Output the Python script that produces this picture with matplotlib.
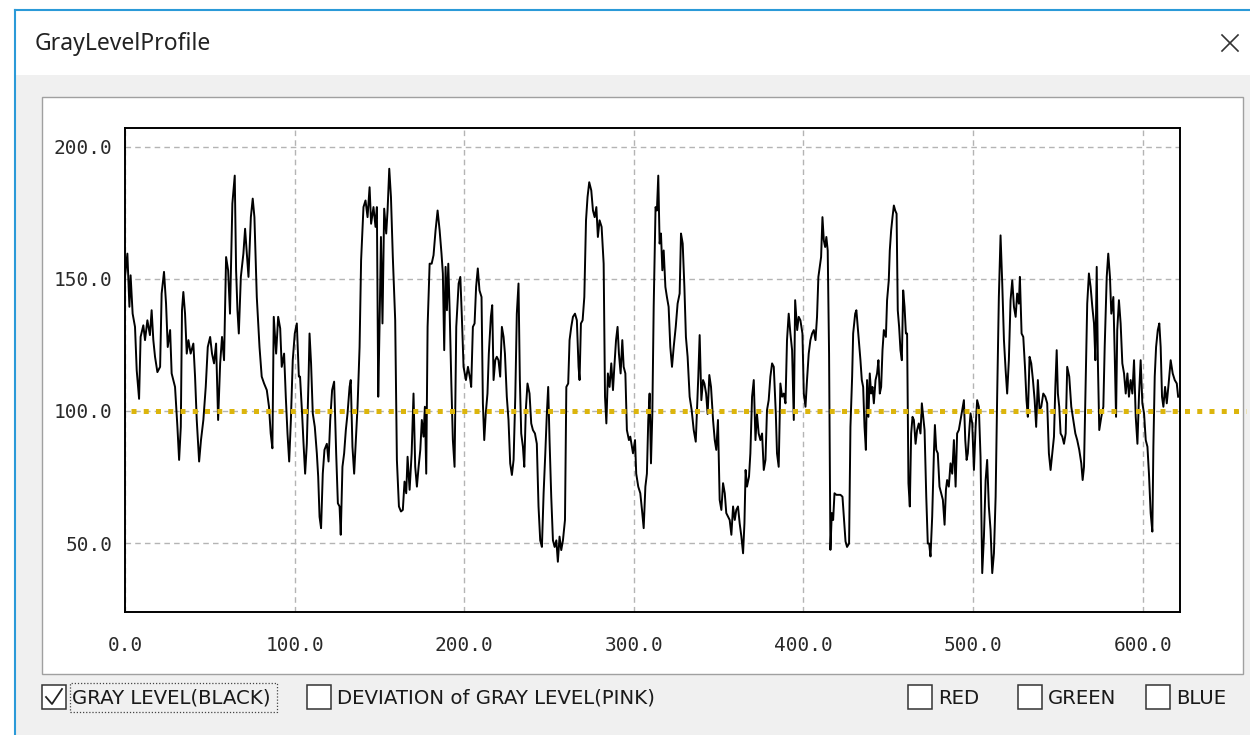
import matplotlib
matplotlib.use('Agg')
import matplotlib.pyplot as plt
from matplotlib.patches import Rectangle
from matplotlib.lines import Line2D

# ---- data ----
profile_x = [
    0.0, 1.4, 2.6, 3.3, 4.5, 5.9, 6.9, 8.3, 9.2, 10.8, 11.8, 13.2, 14.7, 15.7, 16.7, 17.7, 19.1, 20.7, 21.6, 23.0,
    24.2, 25.2, 26.6, 27.5, 29.5, 30.9, 31.9, 32.9, 33.6, 34.4, 35.4, 36.4, 37.4, 38.7, 40.3, 41.3, 42.3, 43.7, 44.8, 46.2,
    47.6, 48.8, 50.2, 51.3, 52.5, 53.7, 54.9, 56.1, 57.2, 58.4, 59.6, 60.8, 61.9, 63.3, 64.7, 65.5, 66.3, 67.1, 68.3, 69.8,
    70.8, 71.8, 72.8, 74.2, 75.3, 76.3, 77.7, 79.3, 80.6, 82.0, 83.6, 84.9, 85.9, 86.9, 87.7, 89.1, 90.3, 91.5, 92.4, 93.8,
    94.8, 95.8, 96.8, 97.8, 98.9, 100.1, 101.3, 102.5,
    103.2, 104.4, 105.2, 106.2, 107.2, 108.2, 108.8, 109.7, 110.7, 111.9, 113.1, 113.9, 114.7, 115.6, 116.6, 117.6, 119.0,
    120.0, 121.0, 122.1, 123.3, 124.5, 125.5, 126.5, 127.2, 128.2, 129.2, 130.2, 131.2, 132.4, 133.1, 134.1, 135.1, 136.1,
    137.1, 138.3, 139.2, 140.6, 141.8, 143.0, 144.2, 145.1, 146.5, 147.7, 148.5, 149.3, 150.1, 150.9, 151.8, 152.8, 154.0,
    154.8, 155.8, 156.8, 157.9, 159.3, 160.3, 161.5, 162.7, 163.8, 164.8, 165.8, 166.6, 167.8, 169.0, 170.1, 171.1, 172.1,
    173.1, 174.1, 175.0, 176.0, 176.8, 177.6, 178.4, 179.6, 180.8, 181.9, 183.1, 184.3, 185.5, 186.6, 187.4, 188.2, 189.0,
    189.8, 190.6, 191.4, 192.4, 193.3, 194.3, 195.3, 196.7, 197.7, 198.6, 199.6, 201.0, 202.2, 203.6,
    204.1, 205.1, 206.1, 207.0, 208.0, 209.0, 210.2, 211.0, 211.8, 212.7, 213.7, 214.5, 215.7, 216.5, 217.3, 218.3, 219.2,
    220.2, 221.2, 222.2, 223.2, 224.0, 225.1, 226.1, 227.1, 228.1, 229.1, 230.1, 231.0, 232.0, 232.8, 233.6, 234.6, 235.4,
    236.3, 237.3, 238.5, 239.5, 240.5, 241.7, 242.8, 243.8, 244.8, 245.8, 246.8, 247.8, 248.7, 249.5, 250.3, 251.3, 252.3,
    253.3, 254.3, 255.2, 256.2, 257.2, 258.2, 259.4, 260.2, 261.3, 262.1, 263.1, 264.1, 265.3, 266.4, 267.4, 268.0, 268.8,
    269.8, 270.8, 271.8, 272.7, 273.7, 274.9, 275.9, 276.9, 277.9, 278.8, 279.8, 281.0, 282.2, 283.0, 283.8, 284.7, 285.7,
    286.7, 287.7, 288.5, 289.5, 290.4, 291.2, 292.2, 293.2, 294.0, 295.0, 295.9, 297.1,
    297.9, 299.5, 300.7, 301.4, 302.6, 303.8, 304.8, 305.8, 306.8, 307.7, 308.5, 309.3, 310.1, 310.9, 311.7, 312.8, 313.6,
    314.4, 315.2, 316.0, 316.8, 317.6, 318.6, 319.5, 320.5, 321.5, 322.5, 323.5, 324.7, 325.8, 327.0, 327.8, 328.8, 329.8,
    330.7, 331.7, 332.9, 334.1, 335.3, 336.5, 337.2, 338.0, 338.8, 339.8, 340.8, 341.6, 342.6, 343.5, 344.5, 345.5, 346.7,
    347.7, 348.6, 349.6, 350.6, 351.6, 352.6, 353.6, 354.5, 355.5, 356.5, 357.5, 358.5, 359.5, 360.4, 361.4, 362.4, 363.4,
    364.4, 365.2, 365.9, 366.7, 367.9, 368.7, 369.7, 370.7, 371.7, 372.6, 373.6, 374.6, 375.6, 376.6, 377.6, 378.5, 379.5,
    380.5, 381.5, 382.5, 383.7, 384.4, 385.4, 386.4, 387.4, 388.4, 389.4, 390.3, 391.3, 392.3, 393.3, 394.3, 395.1, 396.3,
    397.2,
    398.2, 399.4, 400.2, 401.2, 402.1, 403.1, 404.1, 405.1, 406.1, 407.1, 408.0, 408.8, 409.6, 410.4, 411.2, 412.0, 412.8,
    413.5, 414.3, 415.1, 415.9, 416.7, 417.5, 418.3, 419.4, 420.8, 421.8, 423.0, 423.8, 424.8, 425.7, 426.9, 427.7, 428.7,
    429.3, 430.5, 431.2, 432.0, 432.8, 433.6, 434.4, 435.2, 436.0, 436.8, 437.5, 438.3, 439.1, 439.9, 440.7, 441.5, 442.5,
    443.4, 444.2, 445.0, 445.8, 446.6, 447.4, 448.6, 449.3, 450.3, 450.9, 451.7, 452.5, 453.3, 454.1, 454.9, 455.6, 456.4,
    457.2, 458.0, 458.8, 459.6, 460.4, 461.1, 461.9, 462.7, 463.5, 464.3, 465.1, 466.1, 467.0, 468.0, 469.0, 469.8, 470.6,
    471.4, 472.4, 473.3, 474.1, 474.9, 475.9, 476.9, 477.5, 478.3, 479.2, 480.2, 481.2, 482.2, 483.2, 484.0, 484.7, 485.7,
    486.7, 487.7, 488.7, 489.7, 490.6, 491.6, 492.6, 493.6, 494.6, 495.4, 496.2, 496.9, 497.9,
    498.5, 499.5, 500.5, 501.5, 502.4, 503.4, 504.4, 505.4, 506.4, 507.4, 508.3, 509.3, 510.3, 511.3, 512.3, 513.3, 514.2,
    515.2, 516.2, 517.2, 518.2, 519.2, 520.1, 521.1, 522.1, 523.1, 524.1, 525.1, 526.0, 527.0, 527.6, 528.6, 529.6, 530.6,
    531.5, 532.3, 533.3, 534.3, 535.3, 536.3, 537.2, 538.2, 539.2, 540.2, 541.4, 542.6, 543.7, 544.7, 545.7, 546.7, 547.7,
    548.5, 549.3, 550.0, 550.8, 551.6, 552.6, 553.6, 554.6, 555.5, 556.7, 557.9, 559.1, 560.3, 561.4, 562.6, 563.8, 564.6,
    565.4, 566.6, 567.3, 568.3, 569.3, 570.3, 571.3, 572.1, 572.9, 573.6, 574.4, 575.6, 576.8, 577.6, 578.8, 579.7, 580.7,
    581.5, 582.7, 583.5, 584.3, 585.0, 586.0, 587.0, 588.0, 589.0, 590.0, 591.0, 591.9, 592.9, 593.9, 594.9, 595.9, 596.9,
    597.8, 598.8, 599.8, 600.8, 601.8, 602.8, 603.7, 604.7, 605.7, 606.3, 607.1, 607.9, 608.9, 609.8, 610.6, 611.4, 612.2,
    613.2, 614.2, 615.3, 616.5, 617.7, 618.9, 620.1, 620.9,
]
profile_y = [
    150.7, 159.5, 139.4, 151.3, 136.8, 131.8, 115.4, 104.6, 128.0, 132.4, 126.8, 134.3, 128.7, 138.1, 126.8, 120.5, 114.7,
    116.7, 144.4, 152.6, 140.6, 124.2, 130.6, 114.2, 109.1, 94.0, 81.5, 94.0, 138.1, 145.0, 136.8, 121.7, 126.8, 121.7,
    125.5, 113.0, 96.6, 80.9, 89.0, 96.6, 109.1, 124.2, 128.0, 121.7, 118.0, 125.5, 96.6, 118.0, 128.0, 119.2, 158.2,
    153.2, 136.8, 178.4, 189.0, 153.2, 138.1, 129.3, 150.7, 159.5, 168.9, 159.5, 150.7, 173.3, 180.3, 173.3, 143.1, 124.2,
    113.0, 110.4, 107.9, 101.6, 91.5, 85.9, 135.6, 121.7, 135.6, 131.2, 116.7, 121.7, 105.4, 91.5, 80.9, 96.6, 119.2,
    129.3, 133.1, 113.0,
    113.0, 99.1, 88.4, 76.3, 87.6, 111.7, 129.3, 118.0, 99.1, 94.0, 84.0, 75.2, 60.0, 55.7, 76.3, 85.3, 87.6, 80.9, 96.6,
    107.9, 111.1, 84.0, 65.1, 63.9, 53.2, 78.9, 84.0, 92.8, 99.1, 109.1, 111.7, 86.5, 76.3, 89.0, 101.6, 124.2, 157.0,
    177.1, 179.6, 173.3, 184.6, 170.8, 177.1, 169.6, 177.1, 105.4, 133.1, 165.8, 133.1, 176.5, 167.1, 175.8, 191.6, 180.9,
    158.2, 134.3, 81.5, 63.9, 62.0, 62.6, 73.3, 68.9, 82.7, 70.2, 84.0, 106.6, 78.9, 71.4, 78.9, 85.3, 96.6, 90.3, 101.6,
    76.3, 131.8, 155.7, 155.7, 158.9, 168.3, 175.8, 168.3, 159.5, 152.0, 123.0, 154.5, 138.1, 155.7, 138.1, 110.4, 89.0,
    78.9, 131.8, 148.2, 150.7, 135.6, 116.7, 111.7, 116.7, 111.7,
    109.1, 131.8, 133.1, 146.9, 153.9, 145.6, 143.1, 102.9, 89.0, 99.1, 106.6, 121.7, 135.6, 140.0, 111.7, 119.2, 120.5,
    119.2, 113.0, 131.8, 128.0, 121.7, 105.4, 96.6, 80.2, 75.8, 81.5, 105.4, 136.8, 148.2, 111.7, 91.5, 86.5, 78.9, 100.3,
    110.4, 106.6, 95.3, 92.8, 91.5, 87.6, 63.9, 51.1, 48.6, 68.9, 84.0, 98.9, 109.1, 89.0, 67.6, 51.1, 48.6, 51.1, 43.0,
    52.5, 47.4, 51.1, 58.8, 109.1, 110.4, 126.8, 131.8, 135.6, 136.8, 134.3, 116.7, 111.7, 133.1, 134.3, 143.1, 172.1,
    180.9, 186.5, 183.4, 175.8, 173.3, 177.1, 165.8, 172.1, 169.6, 155.7, 105.4, 95.3, 114.2, 109.1, 118.0, 107.9, 116.7,
    126.8, 131.8, 121.7, 114.2, 126.8, 116.7, 114.2, 92.8, 89.0,
    90.3, 84.0, 89.0, 76.3, 71.4, 68.9, 62.6, 55.7, 71.4, 76.3, 96.6, 106.6, 80.2, 98.9, 139.4, 177.1, 175.8, 189.0, 163.3,
    167.1, 153.2, 160.7, 146.9, 143.1, 139.4, 124.2, 116.7, 124.2, 131.8, 140.6, 144.4, 167.1, 163.3, 146.9, 128.0, 120.5,
    105.4, 100.3, 92.8, 88.4, 100.3, 113.0, 128.7, 104.1, 111.7, 110.4, 106.6, 98.9, 113.6, 109.1, 96.6, 89.0, 85.3, 96.6,
    66.4, 62.6, 72.7, 68.9, 61.4, 60.1, 58.8, 53.2, 63.9, 58.8, 62.6, 63.9, 57.5, 52.5, 46.2, 57.5, 77.7, 71.4, 75.2, 84.0,
    105.4, 111.7, 89.0, 98.9, 91.5, 89.0, 91.5, 77.7, 81.5, 100.3, 104.1, 113.0, 118.0, 116.7, 99.1, 84.0, 78.9, 110.4,
    105.4, 106.6, 102.9, 126.8, 136.8, 129.3, 123.0, 96.6, 141.9, 130.6, 135.6,
    134.3, 129.3, 106.6, 101.6, 111.7, 121.7, 126.8, 129.3, 130.6, 126.8, 135.6, 150.7, 154.5, 158.2, 173.3, 164.5, 162.0,
    165.8, 160.7, 121.7, 47.5, 61.4, 58.8, 68.9, 68.3, 68.3, 68.3, 67.6, 60.0, 50.7, 48.6, 49.9, 94.0, 113.0, 129.3, 136.8,
    138.1, 131.8, 125.5, 119.2, 111.7, 109.1, 94.0, 85.3, 111.7, 97.8, 114.2, 106.6, 109.1, 102.9, 111.7, 114.2, 119.2,
    106.6, 109.1, 123.0, 130.6, 128.0, 141.9, 149.4, 160.7, 168.3, 173.3, 177.7, 175.8, 174.6, 138.1, 131.8, 123.0, 119.2,
    145.6, 139.4, 129.3, 129.3, 72.7, 63.9, 91.5, 97.8, 96.6, 87.6, 92.8, 95.3, 91.5, 102.9, 97.8, 92.8, 67.6, 49.9, 49.9,
    45.0, 60.1, 84.0, 94.7, 85.3, 84.0, 71.4, 68.9, 66.4, 57.0, 70.2, 73.9, 71.4, 80.2, 76.3, 89.0, 71.4, 91.5, 92.8, 96.6,
    100.3, 104.1, 89.0, 81.5, 84.0, 94.0,
    99.1, 95.3, 77.7, 94.0, 104.1, 101.6, 82.7, 38.7, 52.5, 73.9, 81.5, 63.9, 55.1, 38.7, 46.2, 67.6, 105.4, 143.1, 166.4,
    148.2, 126.8, 115.4, 106.6, 119.2, 141.9, 149.4, 139.4, 135.6, 144.4, 140.6, 150.7, 129.3, 128.0, 116.7, 104.1, 97.8,
    120.5, 118.0, 111.7, 104.1, 94.0, 111.7, 100.3, 101.6, 106.6, 105.4, 102.9, 84.0, 77.7, 84.0, 90.3, 109.1, 123.0,
    106.6, 101.6, 91.5, 90.3, 87.6, 91.5, 116.7, 113.0, 101.6, 96.6, 91.5, 89.0, 85.3, 80.2, 73.9, 78.9, 119.2, 140.6,
    152.0, 146.9, 139.4, 133.1, 119.2, 154.5, 118.0, 92.8, 97.8, 101.6, 124.2, 150.7, 159.5, 150.7, 136.8, 143.1, 121.7,
    97.8, 130.6, 141.9, 133.1, 118.0, 114.2, 106.6, 114.2, 105.4, 111.7, 106.6, 119.2, 97.8, 87.6, 105.4, 119.2, 102.9,
    99.1, 89.0, 86.5, 76.3, 61.4, 54.4, 86.5, 113.0, 124.2, 130.6, 133.1, 124.2, 105.4, 101.6, 109.1, 102.9, 110.4, 119.2,
    114.2, 111.7, 110.4, 105.4,
]
mean_level = 100.0
x_ticks = [0, 100, 200, 300, 400, 500, 600]
y_ticks = [50, 100, 150, 200]
x_range = (0, 622)
y_range = (24, 207)

window_title = 'GrayLevelProfile'
check_labels = ['GRAY LEVEL(BLACK)', 'DEVIATION of GRAY LEVEL(PINK)', 'RED', 'GREEN', 'BLUE']
check_states = [True, False, False, False, False]

W, H = 1250, 735
fig = plt.figure(figsize=(W / 100, H / 100), dpi=100, facecolor='white')


def fx(px):
    return px / W


def fy(py):
    return 1 - py / H


def box(x0, y0, x1, y1, **kw):
    fig.add_artist(Rectangle((fx(x0), fy(y1)), (x1 - x0) / W, (y1 - y0) / H,
                             transform=fig.transFigure, **kw))


def seg(xs, ys, **kw):
    fig.add_artist(Line2D([fx(v) for v in xs], [fy(v) for v in ys], transform=fig.transFigure, **kw))


# window chrome
box(16, 75, W + 2, H + 2, facecolor='#f0f0f0', edgecolor='none')
seg([15, 15], [10, H], color='#2b9ad8', lw=1.5)
seg([15, W], [10, 10], color='#2b9ad8', lw=1.5)
fig.text(fx(35), fy(44), window_title, fontsize=16.5, family='Noto Sans', color='#222222', va='center')
seg([1222, 1238], [35, 51], color='#333333', lw=1.2)
seg([1222, 1238], [51, 35], color='#333333', lw=1.2)
box(42, 97, 1243, 674, facecolor='white', edgecolor='#a0a0a0', lw=1)

# plot
ax = fig.add_axes([fx(125), fy(612), (1180 - 125) / W, (612 - 128) / H])
ax.set_zorder(5)
ax.plot(profile_x, profile_y, color='black', lw=1.4)
ax.plot([x_range[0] + 3.5, 661], [mean_level, mean_level], color='#dcb50c', lw=3.6,
        linestyle=(0, (1, 1.45)), clip_on=False, zorder=3)
ax.set_xlim(*x_range)
ax.set_ylim(*y_range)
ax.set_xticks(x_ticks)
ax.set_yticks(y_ticks)
ax.set_xticklabels(['%.1f' % v for v in x_ticks])
ax.set_yticklabels(['%.1f' % v for v in y_ticks])
for lab in ax.get_xticklabels() + ax.get_yticklabels():
    lab.set_family('DejaVu Sans Mono')
    lab.set_fontsize(14)
    lab.set_color('#2a2a2a')
ax.tick_params(axis='both', length=0)
ax.tick_params(axis='x', pad=17)
ax.tick_params(axis='y', pad=9)
ax.grid(True, color='#b4b4b4', linestyle=(0, (4, 3)), lw=1)
for sp in ax.spines.values():
    sp.set_color('black')
    sp.set_linewidth(1.4)

# check boxes under the chart
box_left = [42, 307, 908, 1018, 1146]
for left, label, state in zip(box_left, check_labels, check_states):
    box(left, 685, left + 24, 709, facecolor='white', edgecolor='#333333', lw=1.1)
    fig.text(fx(left + 30), fy(698), label, fontsize=14.2, color='#1a1a1a', va='center',
             family='DejaVu Sans')
    if state:
        seg([left + 4, left + 10, left + 20], [697, 704, 689], color='#222222', lw=1.3)
box(70, 683, 277, 712, facecolor='none', edgecolor='#444444', lw=0.9, linestyle=(0, (1, 1.5)))

fig.savefig('out.png', dpi=100, facecolor=fig.get_facecolor())
